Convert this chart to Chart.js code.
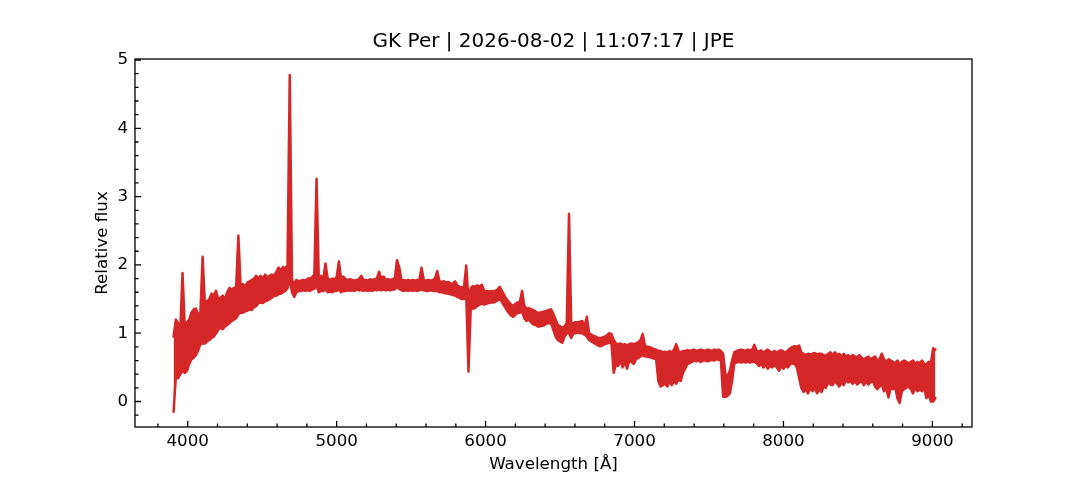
<!DOCTYPE html>
<html>
<head>
<meta charset="utf-8">
<script src="https://cdn.jsdelivr.net/npm/chart.js@4/dist/chart.umd.min.js"></script>
<style>
  html, body { margin: 0; padding: 0; background: #fff; }
  #wrap { width: 1080px; height: 480px; }
</style>
</head>
<body>
<div id="wrap"><canvas id="c" width="1080" height="480"></canvas></div>
<script>
// ---- data ----
const chartTitle = "GK Per | 2026-08-02 | 11:07:17 | JPE";
const xLabel = "Wavelength [Å]";
const yLabel = "Relative flux";
const wavelengthStart = 3905;   // Å, first sample
const wavelengthStep = 15;      // Å, sampling step
// upper edge of the (noisy) flux trace at each sample
const fluxUpper = [
  0.95, 1.20, 1.15, 1.05, 1.88, 1.10, 1.16, 1.20, 1.30, 1.35,
  1.36, 1.28, 1.30, 2.12, 1.45, 1.47, 1.50, 1.58, 1.55, 1.62,
  1.50, 1.52, 1.55, 1.50, 1.60, 1.66, 1.64, 1.66, 1.68, 2.43,
  1.70, 1.72, 1.68, 1.74, 1.76, 1.78, 1.80, 1.84, 1.80, 1.84,
  1.80, 1.86, 1.82, 1.84, 1.86, 1.84, 1.90, 1.96, 1.92, 1.97,
  1.95, 2.00, 4.78, 1.78, 1.72, 1.78, 1.76, 1.77, 1.78, 1.77,
  1.80, 1.80, 1.82, 1.86, 3.26, 1.80, 1.84, 1.80, 2.02, 1.80,
  1.78, 1.80, 1.79, 1.82, 2.05, 1.80, 1.83, 1.79, 1.78, 1.79,
  1.78, 1.77, 1.78, 1.79, 1.84, 1.78, 1.78, 1.77, 1.79, 1.78,
  1.79, 1.80, 1.90, 1.80, 1.83, 1.78, 1.79, 1.78, 1.79, 1.80,
  2.07, 1.97, 1.78, 1.78, 1.77, 1.78, 1.77, 1.78, 1.77, 1.78,
  1.78, 1.96, 1.78, 1.77, 1.78, 1.77, 1.78, 1.80, 1.91, 1.76,
  1.75, 1.76, 1.74, 1.75, 1.73, 1.72, 1.76, 1.70, 1.68, 1.67,
  1.68, 1.99, 1.50, 1.66, 1.69, 1.68, 1.70, 1.68, 1.71, 1.62,
  1.62, 1.61, 1.62, 1.61, 1.62, 1.64, 1.68, 1.62, 1.56, 1.50,
  1.46, 1.42, 1.40, 1.43, 1.45, 1.46, 1.62, 1.40, 1.36, 1.37,
  1.35, 1.34, 1.32, 1.30, 1.30, 1.31, 1.32, 1.33, 1.34, 1.35,
  1.28, 1.20, 1.12, 1.10, 1.08, 1.10, 1.15, 2.75, 1.12, 1.15,
  1.16, 1.16, 1.17, 1.18, 1.10, 1.24, 1.00, 0.98, 0.96, 0.95,
  0.93, 0.93, 0.94, 0.95, 0.97, 1.00, 0.99, 0.90, 0.85, 0.84,
  0.85, 0.83, 0.84, 0.82, 0.84, 0.85, 0.84, 0.85, 0.87, 0.90,
  0.99, 0.82, 0.80, 0.80, 0.78, 0.77, 0.76, 0.74, 0.74, 0.72,
  0.73, 0.72, 0.74, 0.72, 0.76, 0.84, 0.74, 0.72, 0.74, 0.74,
  0.75, 0.74, 0.75, 0.76, 0.74, 0.75, 0.76, 0.75, 0.74, 0.76,
  0.75, 0.74, 0.76, 0.75, 0.76, 0.74, 0.70, 0.40, 0.38, 0.45,
  0.60, 0.72, 0.74, 0.75, 0.76, 0.75, 0.74, 0.76, 0.75, 0.76,
  0.83, 0.74, 0.73, 0.75, 0.72, 0.74, 0.76, 0.73, 0.72, 0.74,
  0.72, 0.74, 0.75, 0.73, 0.72, 0.75, 0.78, 0.80, 0.81, 0.80,
  0.82, 0.72, 0.70, 0.68, 0.70, 0.69, 0.70, 0.71, 0.69, 0.70,
  0.70, 0.68, 0.67, 0.70, 0.72, 0.68, 0.72, 0.68, 0.70, 0.66,
  0.70, 0.66, 0.68, 0.65, 0.68, 0.66, 0.65, 0.68, 0.64, 0.62,
  0.64, 0.66, 0.62, 0.64, 0.66, 0.60, 0.62, 0.70, 0.62, 0.58,
  0.62, 0.60, 0.58, 0.56, 0.60, 0.55, 0.58, 0.60, 0.58, 0.56,
  0.58, 0.60, 0.55, 0.58, 0.56, 0.60, 0.55, 0.54, 0.58, 0.56,
  0.78, 0.76
];
// lower edge of the (noisy) flux trace at each sample
const fluxLower = [
  -0.15, 0.36, 0.34, 0.40, 0.45, 0.42, 0.45, 0.55, 0.62, 0.64,
  0.68, 0.75, 0.84, 0.85, 0.85, 0.88, 0.90, 0.93, 0.95, 1.00,
  1.05, 1.08, 1.06, 1.10, 1.12, 1.15, 1.18, 1.20, 1.22, 1.28,
  1.30, 1.30, 1.32, 1.33, 1.35, 1.34, 1.38, 1.40, 1.44, 1.45,
  1.44, 1.47, 1.48, 1.50, 1.52, 1.55, 1.55, 1.57, 1.58, 1.60,
  1.62, 1.66, 1.80, 1.60, 1.53, 1.60, 1.62, 1.62, 1.63, 1.62,
  1.63, 1.62, 1.64, 1.65, 1.70, 1.60, 1.62, 1.62, 1.64, 1.60,
  1.61, 1.60, 1.62, 1.62, 1.64, 1.60, 1.62, 1.62, 1.63, 1.62,
  1.63, 1.62, 1.64, 1.63, 1.63, 1.62, 1.63, 1.62, 1.63, 1.62,
  1.64, 1.63, 1.64, 1.63, 1.64, 1.63, 1.64, 1.63, 1.64, 1.64,
  1.68, 1.65, 1.63, 1.62, 1.63, 1.62, 1.63, 1.62, 1.63, 1.62,
  1.63, 1.64, 1.63, 1.62, 1.62, 1.63, 1.62, 1.62, 1.62, 1.60,
  1.60, 1.59, 1.58, 1.58, 1.57, 1.56, 1.55, 1.53, 1.52, 1.50,
  1.50, 1.55, 0.44, 1.35, 1.36, 1.37, 1.40, 1.42, 1.43, 1.42,
  1.43, 1.44, 1.45, 1.45, 1.46, 1.48, 1.50, 1.46, 1.40, 1.35,
  1.30, 1.26, 1.24, 1.27, 1.30, 1.30, 1.32, 1.22, 1.18, 1.20,
  1.16, 1.13, 1.12, 1.10, 1.10, 1.11, 1.12, 1.14, 1.15, 1.14,
  1.05, 0.95, 0.90, 0.88, 0.86, 0.95, 1.00, 1.00, 0.93, 1.00,
  1.00, 1.01, 1.00, 1.00, 0.98, 0.95, 0.90, 0.88, 0.86, 0.84,
  0.82, 0.81, 0.82, 0.84, 0.85, 0.86, 0.86, 0.42, 0.55, 0.52,
  0.60, 0.50, 0.58, 0.48, 0.60, 0.58, 0.55, 0.62, 0.64, 0.66,
  0.68, 0.66, 0.66, 0.65, 0.64, 0.63, 0.62, 0.30, 0.22, 0.24,
  0.26, 0.22, 0.30, 0.24, 0.30, 0.26, 0.32, 0.30, 0.42, 0.48,
  0.55, 0.56, 0.58, 0.60, 0.59, 0.60, 0.58, 0.60, 0.60, 0.59,
  0.60, 0.61, 0.60, 0.62, 0.61, 0.60, 0.07, 0.07, 0.08, 0.12,
  0.30, 0.56, 0.57, 0.58, 0.57, 0.58, 0.57, 0.58, 0.57, 0.58,
  0.58, 0.56, 0.52, 0.55, 0.50, 0.54, 0.48, 0.52, 0.50, 0.54,
  0.50, 0.45, 0.52, 0.48, 0.52, 0.50, 0.55, 0.56, 0.55, 0.50,
  0.35, 0.20, 0.14, 0.18, 0.12, 0.20, 0.15, 0.20, 0.12, 0.18,
  0.14, 0.22, 0.20, 0.28, 0.25, 0.24, 0.30, 0.26, 0.22, 0.28,
  0.24, 0.32, 0.28, 0.30, 0.26, 0.30, 0.25, 0.28, 0.30, 0.24,
  0.30, 0.25, 0.28, 0.30, 0.22, 0.18, 0.22, 0.25, 0.15, 0.20,
  0.06, 0.20, 0.18, 0.22, 0.05, -0.02, 0.15, 0.18, 0.20, 0.22,
  0.18, 0.12, 0.20, 0.15, 0.18, 0.15, 0.20, 0.05, 0.10, 0.00,
  0.00, 0.05
];
const xMajorTicks = [4000, 5000, 6000, 7000, 8000, 9000];
const yMajorTicks = [0, 1, 2, 3, 4, 5];
const xRange = [3646, 9266];
const yRange = [-0.373, 5.015];

// ---- build points ----
const upperPts = fluxUpper.map((f, i) => ({ x: wavelengthStart + i * wavelengthStep, y: f }));
const lowerPts = fluxLower.map((f, i) => ({ x: wavelengthStart + i * wavelengthStep, y: f }));

const FONT = "'DejaVu Sans', sans-serif";
const RED = '#d62728';

const framePlugin = {
  id: 'frame',
  afterDatasetsDraw(chart) {
    const { ctx, chartArea: a, scales } = chart;
    const xs = scales.x, ys = scales.y;
    ctx.save();
    ctx.strokeStyle = '#000';
    ctx.lineWidth = 1.3;
    ctx.beginPath();
    for (let v = 3800; v <= 9200; v += 200) {
      if (v < xRange[0] || v > xRange[1]) continue;
      const px = xs.getPixelForValue(v);
      const len = (v % 1000 === 0) ? 6 : 3.5;
      ctx.moveTo(px, a.bottom);
      ctx.lineTo(px, a.bottom - len);
    }
    for (let i = -2; i <= 25; i++) {
      const v = i * 0.2;
      if (v < yRange[0] || v > yRange[1]) continue;
      const py = ys.getPixelForValue(v);
      const len = (i % 5 === 0) ? 6 : 3.5;
      ctx.moveTo(a.left, py);
      ctx.lineTo(a.left + len, py);
    }
    ctx.stroke();
    ctx.strokeRect(a.left, a.top, a.right - a.left, a.bottom - a.top);
    ctx.fillStyle = '#000';
    ctx.font = "20px " + FONT;
    ctx.textAlign = 'center';
    ctx.textBaseline = 'middle';
    ctx.fillText(chartTitle, (a.left + a.right) / 2, 42);
    ctx.restore();
  }
};

new Chart(document.getElementById('c'), {
  type: 'line',
  data: {
    datasets: [
      { label: 'upper', data: upperPts, borderColor: RED, borderWidth: 2.5, pointRadius: 0,
        tension: 0, fill: false, borderJoinStyle: 'round', borderCapStyle: 'round' },
      { label: 'lower', data: lowerPts, borderColor: RED, borderWidth: 2.5, pointRadius: 0,
        tension: 0, fill: '-1', backgroundColor: RED, borderJoinStyle: 'round', borderCapStyle: 'round' }
    ]
  },
  options: {
    responsive: false,
    animation: false,
    devicePixelRatio: 1,
    layout: { padding: { left: 0, right: 108, top: 59, bottom: 0 } },
    plugins: { legend: { display: false }, tooltip: { enabled: false }, title: { display: false },
               filler: { propagate: false } },
    scales: {
      x: {
        type: 'linear',
        min: xRange[0], max: xRange[1],
        afterBuildTicks: s => { s.ticks = xMajorTicks.map(v => ({ value: v })); },
        afterFit: s => { s.height = 53; },
        grid: { display: false, drawTicks: false },
        border: { display: false },
        ticks: { color: '#000', font: { family: FONT, size: 16.7 }, padding: 5, maxRotation: 0,
                 callback: v => String(v) },
        title: { display: true, text: xLabel, color: '#000', font: { family: FONT, size: 16.7 },
                 padding: { top: 0, bottom: 5 } }
      },
      y: {
        type: 'linear',
        min: yRange[0], max: yRange[1],
        afterBuildTicks: s => { s.ticks = yMajorTicks.map(v => ({ value: v })); },
        afterFit: s => { s.width = 135; },
        grid: { display: false, drawTicks: false },
        border: { display: false },
        ticks: { color: '#000', font: { family: FONT, size: 16.7 }, padding: 7,
                 callback: v => String(v) },
        title: { display: true, text: yLabel, color: '#000', font: { family: FONT, size: 16.7 },
                 padding: { top: 93, bottom: 0 } }
      }
    }
  },
  plugins: [framePlugin]
});
</script>
</body>
</html>
